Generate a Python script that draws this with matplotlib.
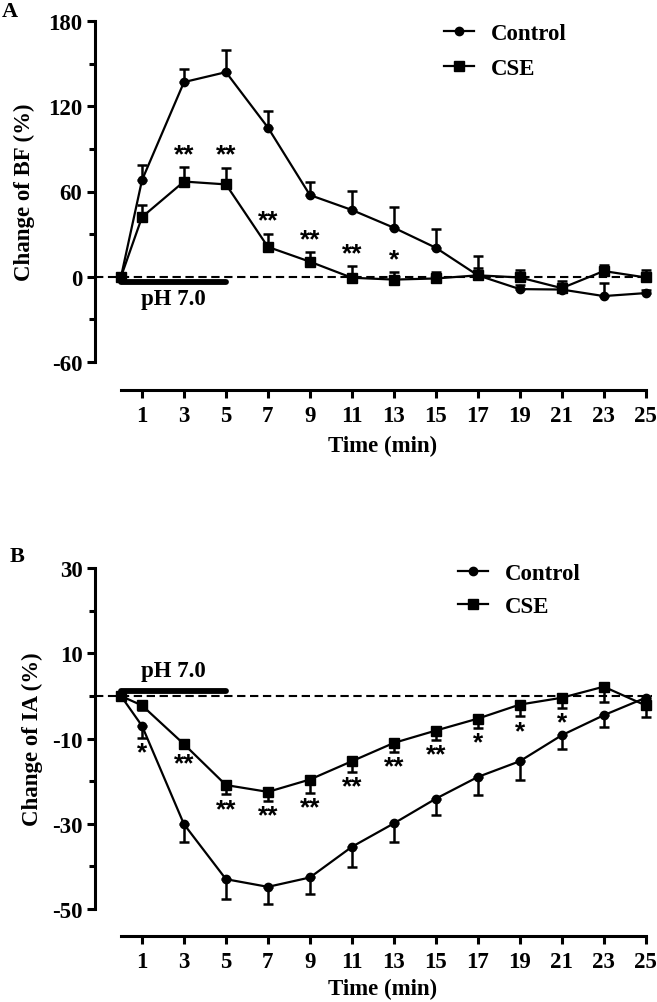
import matplotlib.pyplot as plt
from matplotlib.lines import Line2D
import numpy as np

plt.rcParams['font.family'] = 'Liberation Serif'
plt.rcParams['font.weight'] = 'bold'
plt.rcParams['axes.unicode_minus'] = False

time = [0, 1, 3, 5, 7, 9, 11, 13, 15, 17, 19, 21, 23, 25]

# A: change of BF (%), error bars drawn upward
ctrl_a = [0, 68, 137, 144, 105, 57.5, 47, 34.5, 20.4, 1, -8.7, -9, -13.6, -11.5]
ctrl_a_err = [0, 10.6, 9, 15.6, 12, 9.5, 13.5, 14.3, 13, 13.5, 3, 3, 9, 2]
cse_a = [0, 42, 67, 65, 21, 10.6, -0.7, -2, -1.2, 1, -0.5, -8, 4, -0.5]
cse_a_err = [0, 8.5, 10, 11.8, 9, 6.5, 8, 5, 4.7, 5.3, 5, 5, 4, 5]
stars_a = ['', '', '**', '**', '**', '**', '**', '*', '', '', '', '', '', '']

# B: change of IA (%), error bars drawn downward
ctrl_b = [0, -7.0, -30.1, -43, -44.8, -42.6, -35.4, -29.9, -24.1, -19, -15.3, -9.2, -4.5, -0.4]
ctrl_b_err = [0, 2.8, 4.2, 4.6, 4.1, 3.8, 4.7, 4.3, 3.9, 4.3, 4.5, 3.3, 2.7, 2]
cse_b = [0, -2.2, -11.3, -20.9, -22.5, -19.6, -15.3, -11, -8.1, -5.3, -2, -0.4, 2.2, -2.2]
cse_b_err = [0, 1, 1, 2.2, 2.1, 3.1, 2.5, 2.1, 2.1, 2.1, 2.7, 2.3, 3.6, 2.7]
stars_b = ['', '*', '**', '**', '**', '**', '**', '**', '**', '*', '*', '*', '', '']

xticks = list(range(1, 26, 2))

fig = plt.figure(figsize=(6.57, 10.03), dpi=100)
W, H = 657, 1003
star_font = {'family': 'Liberation Sans', 'size': 19, 'weight': 'bold'}


def make_axes(top_px, bottom_px):
    left, right = 95, 652
    return fig.add_axes([left / W, 1 - bottom_px / H, (right - left) / W, (bottom_px - top_px) / H])


def style(ax, ylim, major, minor, outward, ylabel, xlabel_y, ylabel_x):
    ax.set_xlim(-1.24, 25.3)
    ax.set_ylim(*ylim)
    for s in ['top', 'right']:
        ax.spines[s].set_visible(False)
    ax.spines['left'].set_linewidth(2.2)
    ax.spines['bottom'].set_linewidth(2.2)
    ax.spines['left'].set_bounds(*ylim)
    ax.spines['bottom'].set_position(('outward', outward))
    ax.spines['bottom'].set_bounds(0, 25)
    ax.set_xticks(xticks)
    ax.set_yticks(major)
    ax.set_yticks(minor, minor=True)
    ax.tick_params(axis='both', which='major', length=6, width=2.2, labelsize=16.5)
    ax.tick_params(axis='y', which='minor', length=4, width=2.2)
    ax.tick_params(axis='x', pad=5)
    ax.tick_params(axis='y', pad=3)
    ax.set_ylabel(ylabel, fontsize=16.5, fontweight='bold')
    ax.yaxis.set_label_coords(ylabel_x, 0.5)
    ax.set_xlabel('Time (min)', fontsize=16.5, fontweight='bold')
    ax.xaxis.set_label_coords(0.517, xlabel_y)
    ax.axhline(0, color='black', lw=1.5, ls=(0, (4, 2.2)), zorder=1)


def draw_series(ax, y, err, up, marker, ms):
    yerr = [np.zeros(len(err)), err] if up else [err, np.zeros(len(err))]
    ax.errorbar(time, y, yerr=yerr, color='black', lw=1.6, marker=marker, ms=ms,
                capsize=3.5, capthick=1.8, elinewidth=1.8, zorder=3)


def add_legend(ax, anchor, spacing):
    handles = [Line2D([], [], color='black', lw=1.6, marker='o', ms=6),
               Line2D([], [], color='black', lw=1.6, marker='s', ms=6.5)]
    ax.legend(handles, ['Control', 'CSE'], loc='upper left', bbox_to_anchor=anchor,
              frameon=False, handlelength=1.3, handletextpad=0.75, labelspacing=spacing,
              borderpad=0, borderaxespad=0, prop={'size': 16.5, 'weight': 'bold'})


# ---- panel A ----
axA = make_axes(22, 363)
style(axA, (-60, 180), [-60, 0, 60, 120, 180], [-30, 30, 90, 150], 20,
      'Change of BF (%)', -0.214, -0.1077)
draw_series(axA, ctrl_a, ctrl_a_err, True, 'o', 6)
draw_series(axA, cse_a, cse_a_err, True, 's', 6.5)
axA.plot([0, 5], [-3.5, -3.5], color='black', lw=4.2, solid_capstyle='round', zorder=4)
axA.text(2.5, -15, 'pH 7.0', ha='center', va='center', fontsize=16.5, fontweight='bold')
for t, s, m, e in zip(time, stars_a, cse_a, cse_a_err):
    if s:
        axA.annotate(s, (t, m + e), xytext=(0, 1), textcoords='offset points',
                     ha='center', va='bottom', **star_font)
add_legend(axA, (0.6266, 0.9956), 0.65)
fig.text(2 / W, 1 - 12 / H, 'A', fontsize=16, fontweight='bold', va='center', ha='left')

# ---- panel B ----
axB = make_axes(569.3, 910)
style(axB, (-50, 30), [-50, -30, -10, 10, 30], [-40, -20, 0, 20], 19.6,
      'Change of IA (%)', -0.2025, -0.093)
draw_series(axB, ctrl_b, ctrl_b_err, False, 'o', 6)
draw_series(axB, cse_b, cse_b_err, False, 's', 6.5)
axB.plot([0, 5], [1.2, 1.2], color='black', lw=4.2, solid_capstyle='round', zorder=4)
axB.text(2.5, 5.9, 'pH 7.0', ha='center', va='center', fontsize=16.5, fontweight='bold')
for i, (t, s) in enumerate(zip(time, stars_b)):
    if not s:
        continue
    low = cse_b[i] - cse_b_err[i]
    if i == 1:
        # curves overlap at 1 min, star goes under the control bar
        low = ctrl_b[i] - ctrl_b_err[i]
    axB.annotate(s, (t, low), xytext=(0, -2), textcoords='offset points',
                 ha='center', va='top', **star_font)
add_legend(axB, (0.652, 1.017), 0.55)
fig.text(10 / W, 1 - 557 / H, 'B', fontsize=16, fontweight='bold', va='center', ha='left')

fig.savefig('out.png', dpi=100)
